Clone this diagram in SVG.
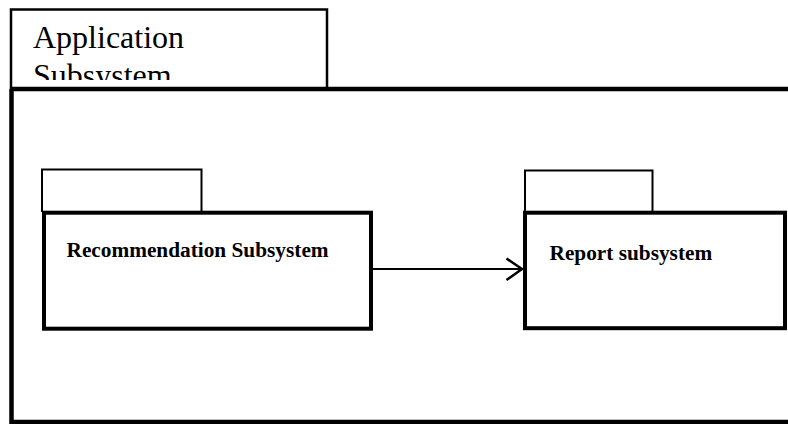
<svg xmlns="http://www.w3.org/2000/svg" width="788" height="424" viewBox="0 0 788 424">
  <style>
    .tab { fill: #fff; stroke: #000; stroke-width: 2.5; }
    .box { fill: #fff; stroke: #000; stroke-width: 4; }
    .frame { fill: none; stroke: #000; stroke-width: 4.5; }
    .title { font-family: "Liberation Serif", "Times New Roman", serif; font-size: 32px; fill: #000; }
    .label { font-family: "Liberation Serif", "Times New Roman", serif; font-size: 21.3px; font-weight: bold; fill: #000; }
    .conn { fill: none; stroke: #000; stroke-width: 2; }
  </style>
  <defs>
    <clipPath id="tabclip">
      <rect x="12" y="11" width="314" height="69"/>
    </clipPath>
  </defs>
  <rect width="788" height="424" fill="#fff"/>

  <g id="application-subsystem">
    <path class="tab" d="M11,89 V9.5 H327 V89"/>
    <g clip-path="url(#tabclip)">
      <text class="title" x="33" y="48">Application</text>
      <text class="title" x="33" y="86">Subsystem</text>
    </g>
    <path class="frame" d="M11.5,89 H792 M11.5,89 V422 H792"/>
  </g>

  <g id="recommendation-subsystem">
    <path class="tab" d="M42,212 V169.5 H201.5 V212" style="stroke-width:2"/>
    <rect class="box" x="44" y="212.7" width="327" height="116"/>
    <text class="label" x="66.5" y="256.5">Recommendation Subsystem</text>
  </g>

  <g id="report-subsystem">
    <path class="tab" d="M525,212 V170.5 H652.5 V212" style="stroke-width:2"/>
    <rect class="box" x="525" y="212.7" width="260" height="115.5"/>
    <text class="label" x="549.5" y="260">Report subsystem</text>
  </g>

  <g id="connectors">
    <line class="conn" x1="373" y1="269" x2="522" y2="269"/>
    <polyline class="conn" points="506.5,258.5 522,269 506.5,280" style="stroke-width:2.5"/>
  </g>
</svg>
